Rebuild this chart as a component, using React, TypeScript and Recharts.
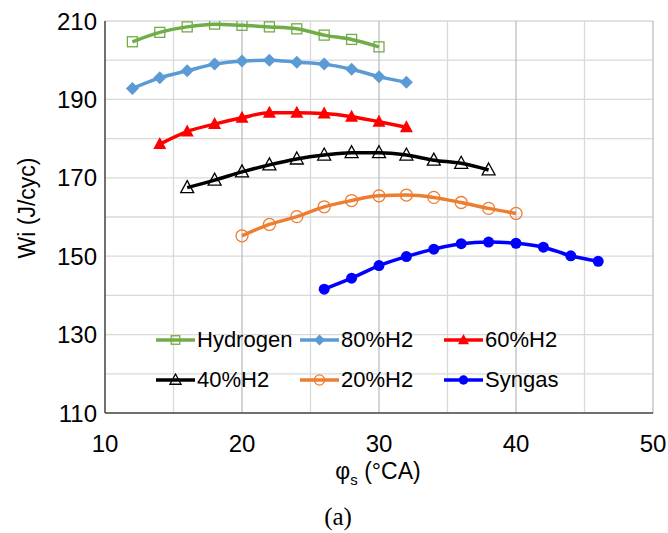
import React from 'react'
import { LineChart, Line, XAxis, YAxis, CartesianGrid } from 'recharts'

// spark timing (°CA) and indicated work (J/cyc) per fuel
const phiHydrogen = [12, 14, 16, 18, 20, 22, 24, 26, 28, 30]
const wiHydrogen  = [204.7, 207.1, 208.5, 209.2, 208.9, 208.5, 208.0, 206.4, 205.3, 203.4]

const phi80 = [12, 14, 16, 18, 20, 22, 24, 26, 28, 30, 32]
const wi80  = [192.8, 195.5, 197.3, 199.0, 199.8, 200.0, 199.5, 199.0, 197.7, 195.8, 194.4]

const phi60 = [14, 16, 18, 20, 22, 24, 26, 28, 30, 32]
const wi60  = [178.6, 181.8, 183.7, 185.3, 186.6, 186.6, 186.4, 185.6, 184.3, 182.9]

const phi40 = [16, 18, 20, 22, 24, 26, 28, 30, 32, 34, 36, 38]
const wi40  = [167.5, 169.4, 171.5, 173.3, 174.8, 175.8, 176.4, 176.4, 175.8, 174.5, 173.7, 172.0]

const phi20 = [20, 22, 24, 26, 28, 30, 32, 34, 36, 38, 40]
const wi20  = [155.2, 158.1, 160.1, 162.6, 164.2, 165.4, 165.6, 165.0, 163.7, 162.2, 160.9]

const phiSyngas = [26, 28, 30, 32, 34, 36, 38, 40, 42, 44, 46]
const wiSyngas  = [141.6, 144.4, 147.6, 149.9, 151.8, 153.2, 153.6, 153.3, 152.3, 150.1, 148.7]

const xTicks = [10, 20, 30, 40, 50]
const yTicks = [110, 130, 150, 170, 190, 210]
const gridXMinor = [15, 25, 35, 45]
const gridXMajor = [20, 30, 40, 50]
const gridY = [120, 130, 140, 150, 160, 170, 180, 190, 200, 210]

type Marker = 'square' | 'diamond' | 'triangle' | 'circle'

const series = [
  { name: 'Hydrogen', phi: phiHydrogen, wi: wiHydrogen, color: '#70AD47', marker: 'square' as Marker, filled: false },
  { name: '80%H2', phi: phi80, wi: wi80, color: '#5B9BD5', marker: 'diamond' as Marker, filled: true },
  { name: '60%H2', phi: phi60, wi: wi60, color: '#FF0000', marker: 'triangle' as Marker, filled: true },
  { name: '40%H2', phi: phi40, wi: wi40, color: '#000000', marker: 'triangle' as Marker, filled: false },
  { name: '20%H2', phi: phi20, wi: wi20, color: '#ED7D31', marker: 'circle' as Marker, filled: false },
  { name: 'Syngas', phi: phiSyngas, wi: wiSyngas, color: '#0000FF', marker: 'circle' as Marker, filled: true },
]

const font = '"Liberation Sans", Arial, sans-serif'

function MarkerShape({ cx, cy, marker, color, filled, k = 1 }: { cx: number; cy: number; marker: Marker; color: string; filled: boolean; k?: number }) {
  const fill = filled ? color : '#ffffff'
  const sw = filled ? 0 : 1.3
  if (marker === 'square') {
    const h = 5 * k
    return <rect x={cx - h} y={cy - h} width={2 * h} height={2 * h} fill={fill} fillOpacity={filled ? 1 : 0} stroke={color} strokeWidth={sw} />
  }
  if (marker === 'diamond') {
    const h = 6.5 * k
    return <path d={`M${cx},${cy - h}L${cx + h},${cy}L${cx},${cy + h}L${cx - h},${cy}Z`} fill={fill} />
  }
  if (marker === 'triangle') {
    return <path d={`M${cx},${cy - 7 * k}L${cx + 6.5 * k},${cy + 5 * k}L${cx - 6.5 * k},${cy + 5 * k}Z`} fill={fill} fillOpacity={filled ? 1 : 0} stroke={color} strokeWidth={sw} />
  }
  return <circle cx={cx} cy={cy} r={(filled ? 5.5 : 6) * k} fill={fill} fillOpacity={filled ? 1 : 0} stroke={color} strokeWidth={sw} />
}

function LegendItem({ s }: { s: (typeof series)[number] }) {
  return (
    <div style={{ display: 'flex', alignItems: 'center' }}>
      <svg width={41} height={16}>
        <line x1={0} y1={8} x2={39} y2={8} stroke={s.color} strokeWidth={3.5} />
        <MarkerShape cx={19.5} cy={8} marker={s.marker} color={s.color} filled={s.filled} k={0.85} />
      </svg>
      <span style={{ fontFamily: font, fontSize: 22, color: '#000' }}>{s.name}</span>
    </div>
  )
}

export default function App() {
  const legendCols = [156, 300, 444]
  const legendRows = [340, 380]

  return (
    <div style={{ position: 'absolute', left: 0, top: 0, width: 668, height: 533, background: '#fff' }}>
      <LineChart width={668} height={533} margin={{ top: 21, right: 15, left: 0, bottom: 80 }}>
        <CartesianGrid stroke="#D9D9D9" strokeWidth={1.3} verticalValues={gridXMinor} horizontalValues={gridY} />
        <CartesianGrid stroke="#BFBFBF" strokeWidth={1.3} verticalValues={gridXMajor} horizontal={false} />
        <XAxis
          type="number"
          dataKey="phi"
          domain={[10, 50]}
          ticks={xTicks}
          allowDataOverflow
          height={40}
          tickLine={false}
          tickSize={0}
          tickMargin={22}
          axisLine={{ stroke: '#404040', strokeWidth: 1.5 }}
          tick={{ fill: '#000', fontSize: 24, fontFamily: font }}
        />
        <YAxis
          type="number"
          domain={[110, 210]}
          ticks={yTicks}
          allowDataOverflow
          width={105}
          tickLine={false}
          tickSize={0}
          tickMargin={8}
          axisLine={{ stroke: '#404040', strokeWidth: 1.5 }}
          tick={{ fill: '#000', fontSize: 24, fontFamily: font }}
        />
        {series.map(s => (
          <Line
            key={s.name}
            data={s.phi.map((p, i) => ({ phi: p, wi: s.wi[i] }))}
            dataKey="wi"
            name={s.name}
            type="monotone"
            stroke={s.color}
            strokeWidth={3.5}
            isAnimationActive={false}
            dot={(p: any) => (
              <MarkerShape key={`${s.name}-${p.index}`} cx={p.cx} cy={p.cy} marker={s.marker} color={s.color} filled={s.filled} />
            )}
            activeDot={false}
          />
        ))}
      </LineChart>

      {series.map((s, i) => (
        <div
          key={s.name}
          style={{
            position: 'absolute',
            left: legendCols[i % 3],
            top: legendRows[Math.floor(i / 3)] - 13,
            height: 26,
          }}
        >
          <LegendItem s={s} />
        </div>
      ))}

      <div
        style={{
          position: 'absolute',
          left: 27,
          top: 208,
          transform: 'translate(-50%, -50%) rotate(-90deg)',
          fontFamily: font,
          fontSize: 23,
          whiteSpace: 'nowrap',
        }}
      >
        Wi (J/cyc)
      </div>
      <div
        style={{
          position: 'absolute',
          left: 378,
          top: 473,
          transform: 'translate(-50%, -50%)',
          fontFamily: font,
          fontSize: 23,
          whiteSpace: 'nowrap',
        }}
      >
        φ<sub style={{ fontSize: 15 }}>s</sub> (°CA)
      </div>
      <div
        style={{
          position: 'absolute',
          left: 338,
          top: 517,
          transform: 'translate(-50%, -50%)',
          fontFamily: '"Liberation Serif", "Times New Roman", serif',
          fontSize: 25,
          whiteSpace: 'nowrap',
        }}
      >
        (a)
      </div>
    </div>
  )
}
